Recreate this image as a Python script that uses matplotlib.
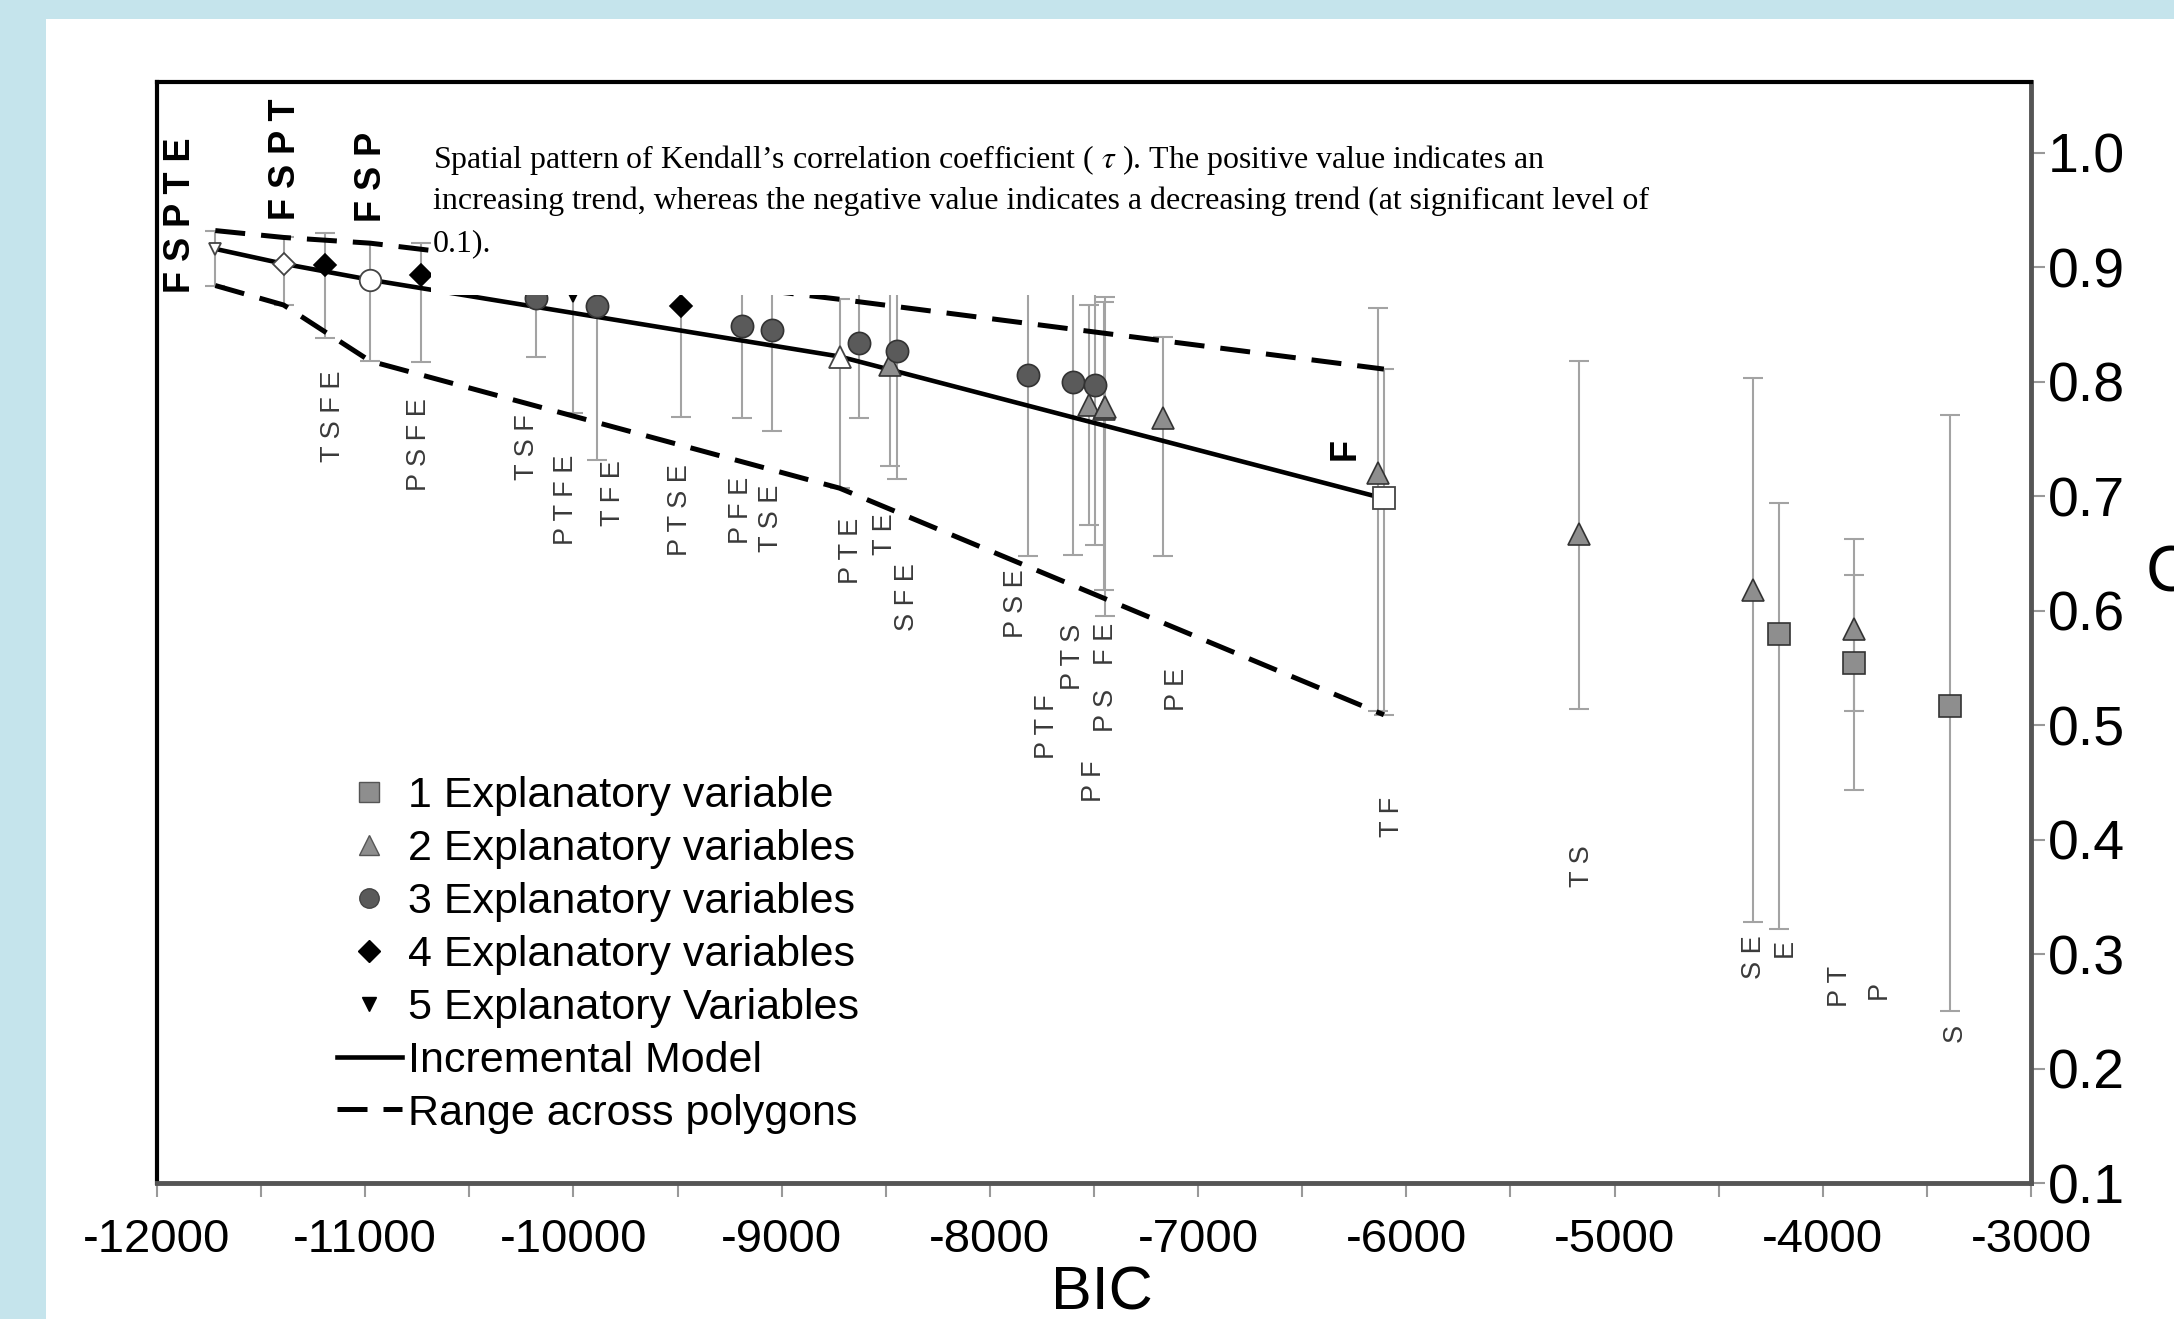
import matplotlib
matplotlib.use("Agg")
import matplotlib.pyplot as plt
from matplotlib.lines import Line2D
from matplotlib.patches import Rectangle
import numpy as np

plt.rcParams['font.family'] = ['Liberation Sans', 'DejaVu Sans']
plt.rcParams['mathtext.fontset'] = 'stix'
plt.rcParams['axes.unicode_minus'] = False

# incremental model (open symbols), one per number of variables
inc_names = ['FSPTE', 'FSPT', 'FSP', 'FS', 'F']
inc_nvar = [5, 4, 3, 2, 1]
inc_bic = [-11720, -11392, -10976, -8722, -6108]
inc_c = [0.916, 0.903, 0.889, 0.822, 0.698]
inc_hi = [0.932, 0.926, 0.921, 0.872, 0.811]
inc_lo = [0.884, 0.867, 0.818, 0.707, 0.509]

# all other candidate models, grouped by number of explanatory variables
one_names = ['E', 'P', 'S']
one_bic = [-4208, -3850, -3390]
one_c = [0.580, 0.554, 0.517]
one_lo = [0.322, 0.443, 0.250]
one_hi = [0.694, 0.631, 0.771]

two_names = ['TE', 'PS', 'PF', 'FE', 'PE', 'TF', 'TS', 'SE', 'PT']
two_bic = [-8481, -7524, -7452, -7448, -7167, -6135, -5170, -4337, -3849]
two_c = [0.815, 0.780, 0.776, 0.778, 0.768, 0.720, 0.667, 0.618, 0.584]
two_lo = [0.726, 0.675, 0.618, 0.595, 0.648, 0.512, 0.514, 0.328, 0.512]
two_hi = [0.900, 0.867, 0.870, 0.874, 0.839, 0.864, 0.818, 0.803, 0.663]

three_names = ['TSF', 'TFE', 'PFE', 'TSE', 'PTE', 'SFE', 'PSE', 'PTS', 'PTF']
three_bic = [-10180, -9888, -9191, -9048, -8631, -8444, -7817, -7599, -7495]
three_c = [0.873, 0.866, 0.849, 0.845, 0.834, 0.827, 0.806, 0.800, 0.797]
three_lo = [0.822, 0.732, 0.768, 0.757, 0.768, 0.715, 0.648, 0.649, 0.657]
three_hi = [0.92, 0.92, 0.91, 0.91, 0.90, 0.90, 0.90, 0.90, 0.90]

four_names = ['TSFE', 'PSFE', 'PTSE']
four_bic = [-11192, -10733, -9485]
four_c = [0.902, 0.893, 0.866]
four_lo = [0.838, 0.817, 0.769]
four_hi = [0.930, 0.9215, 0.92]

five_names = ['PTFE']
five_bic = [-10003]
five_c = [0.876]
five_lo = [0.773]
five_hi = [0.93]

# label placement (data coords)
bold_text = ['FSPTE', 'FSPT', 'FSP', 'F']
bold_x = [-11887, -11381, -10968, -6295]
bold_y = [0.9455, 0.994, 0.979, 0.741]

lab_text = ['TSFE', 'PSFE', 'TSF', 'PTFE', 'TFE', 'PTSE', 'PFE', 'TSE', 'PTE', 'TE',
            'SFE', 'PSE', 'PTS', 'FE', 'PTF', 'PS', 'PF', 'PE', 'TF', 'TS',
            'SE', 'E', 'PT', 'P', 'S']
lab_x = [-11155, -10742, -10223, -10036, -9810, -9490, -9197, -9051, -8665, -8505,
         -8399, -7873, -7600, -7440, -7726, -7440, -7500, -7100, -6069, -5157,
         -4331, -4185, -3918, -3732, -3366]
lab_y = [0.770, 0.745, 0.743, 0.697, 0.703, 0.688, 0.688, 0.681, 0.652, 0.667,
         0.612, 0.606, 0.560, 0.571, 0.499, 0.5125, 0.451, 0.531, 0.420, 0.377,
         0.2975, 0.305, 0.272, 0.269, 0.231]

legend_labels = ['1 Explanatory variable', '2 Explanatory variables',
                 '3 Explanatory variables', '4 Explanatory variables',
                 '5 Explanatory Variables', 'Incremental Model',
                 'Range across polygons']

caption = ['Spatial pattern of Kendall\u2019s correlation coefficient ( $\\tau$ ). '
           'The positive value indicates an',
           'increasing trend, whereas the negative value indicates a decreasing '
           'trend (at significant level of',
           '0.1).']

markers = {1: 's', 2: '^', 3: 'o', 4: 'D', 5: 'v'}
sizes = {1: 16.5, 2: 16, 3: 16, 4: 11.5, 5: 10}
fills = {1: '#8e8e8e', 2: '#8e8e8e', 3: '#5a5a5a', 4: 'black', 5: 'black'}
edges = {1: '#333333', 2: '#333333', 3: '#333333', 4: 'black', 5: 'black'}
dash = (0, (6, 3.2))

W, H = 2174, 1319
fig = plt.figure(figsize=(W / 100, H / 100), dpi=100)
fig.patch.set_facecolor('#c5e4ec')
fig.add_artist(Rectangle((46 / W, 0), 1 - 46 / W, 1 - 19 / H, transform=fig.transFigure,
                         fc='white', ec='none', zorder=-5))

ax = fig.add_axes([157 / W, 1 - 1183 / H, (2031 - 157) / W, (1183 - 82) / H])

groups = [
    (1, one_bic, one_c, one_lo, one_hi),
    (2, two_bic, two_c, two_lo, two_hi),
    (3, three_bic, three_c, three_lo, three_hi),
    (4, four_bic, four_c, four_lo, four_hi),
    (5, five_bic, five_c, five_lo, five_hi),
]

err_style = dict(fmt='none', ecolor='#a3a3a3', elinewidth=1.5, capsize=7, capthick=1.5, zorder=1)

for n, bx, cy, lo, hi in groups:
    cy = np.array(cy)
    ax.errorbar(bx, cy, yerr=[cy - np.array(lo), np.array(hi) - cy], **err_style)
    ax.plot(bx, cy, ls='none', marker=markers[n], ms=sizes[n], mfc=fills[n],
            mec=edges[n], mew=1.2, zorder=4)

ic = np.array(inc_c)
ax.errorbar(inc_bic, ic, yerr=[ic - np.array(inc_lo), np.array(inc_hi) - ic], **err_style)

# incremental model and its range across polygons
ax.plot(inc_bic, inc_c, color='black', lw=3.3, zorder=3)
ax.plot(inc_bic, inc_hi, color='black', lw=3.6, ls=dash, zorder=3)
ax.plot(inc_bic, inc_lo, color='black', lw=3.6, ls=dash, zorder=3)

open_sizes = {1: 16, 2: 16, 3: 15.5, 4: 11, 5: 9}
for x, y, n in zip(inc_bic, inc_c, inc_nvar):
    ax.plot([x], [y], ls='none', marker=markers[n], ms=open_sizes[n], mfc='white',
            mec='#444444', mew=1.3, zorder=5)

for t, x, y in zip(lab_text, lab_x, lab_y):
    ax.text(x, y, ' '.join(t), rotation=90, ha='center', va='center',
            fontsize=19.5, color='#3a3a3a', zorder=2)
for t, x, y in zip(bold_text, bold_x, bold_y):
    ax.text(x, y, ' '.join(t), rotation=90, ha='center', va='center',
            fontsize=26, fontweight='bold', color='black', zorder=2)

ax.set_xlim(-12000, -3000)
ax.set_ylim(0.1, 1.0618)
ax.set_xticks(np.arange(-12000, -2999, 1000))
ax.set_xticks(np.arange(-11500, -3000, 1000), minor=True)
ax.set_yticks(np.arange(0.1, 1.01, 0.1))
ax.set_yticklabels([f'{v:.1f}' for v in np.arange(0.1, 1.01, 0.1)])
ax.yaxis.tick_right()
ax.tick_params(axis='x', which='both', direction='out', length=10, width=1.5,
               color='#999999', pad=15, labelsize=34)
ax.tick_params(axis='y', which='both', direction='out', length=10, width=1.5,
               color='#999999', pad=2, labelsize=40)
for side in ['left', 'top']:
    ax.spines[side].set_linewidth(3)
    ax.spines[side].set_color('black')
for side in ['bottom', 'right']:
    ax.spines[side].set_linewidth(3.5)
    ax.spines[side].set_color('#555555')

handles = [
    Line2D([], [], ls='none', marker='s', ms=15, mfc='#8e8e8e', mec='#555555'),
    Line2D([], [], ls='none', marker='^', ms=14, mfc='#8e8e8e', mec='#555555'),
    Line2D([], [], ls='none', marker='o', ms=14, mfc='#5a5a5a', mec='#444444'),
    Line2D([], [], ls='none', marker='D', ms=11, mfc='black', mec='black'),
    Line2D([], [], ls='none', marker='v', ms=10, mfc='black', mec='black'),
    Line2D([], [], color='black', lw=3.3),
    Line2D([], [], color='black', lw=3.6, ls=dash),
]
ax.legend(handles, legend_labels, loc='upper left', frameon=False, fontsize=31,
          bbox_to_anchor=(337 / W, 1 - 776 / H), bbox_transform=fig.transFigure,
          borderpad=0, borderaxespad=0, handlelength=1.5, handletextpad=0.16,
          labelspacing=0.3)

fig.text(1102 / W, 1 - 1310 / H, 'BIC', fontsize=44, ha='center', va='baseline')
fig.text(2146 / W, 1 - 575 / H, 'C', fontsize=47, ha='left', va='center')

# caption box lying over the plot
fig.add_artist(Rectangle((431 / W, 1 - 295 / H), (1670 - 431) / W, (295 - 120) / H,
                         transform=fig.transFigure, fc='white', ec='none', zorder=10))
baselines = [168, 209, 251]
cap_texts = [fig.text(433 / W, 1 - b / H, line, fontsize=20, ha='left', va='baseline',
                      family='Liberation Serif', zorder=11)
             for line, b in zip(caption, baselines)]
r = fig.canvas.get_renderer()
w = cap_texts[0].get_window_extent(r).width
for t in cap_texts:
    t.set_fontsize(20 * 1113 / w)

fig.savefig('out.png', dpi=100)
